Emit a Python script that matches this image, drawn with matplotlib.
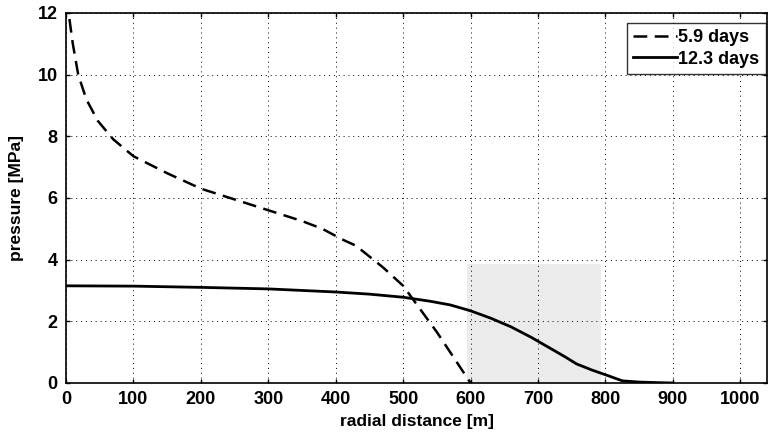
import numpy as np
import matplotlib as mpl
import matplotlib.pyplot as plt

#datos
r_59=[5, 10, 18, 30, 47, 70, 100, 150, 200, 250, 300, 350, 380, 410, 430, 450, 470, 500, 550, 600]
p_59=[11.8, 11.0, 10.0, 9.2, 8.5, 7.9, 7.35, 6.8, 6.3, 5.95, 5.6, 5.25, 5.0, 4.65, 4.45, 4.1, 3.75, 3.15, 1.65, 0.0]

r_123=[0, 100, 200, 300, 400, 450, 500, 540, 570, 600, 630, 660, 690, 717, 740, 757, 780, 801, 825, 850, 880, 900]
p_123=[3.15, 3.14, 3.1, 3.05, 2.95, 2.88, 2.78, 2.65, 2.53, 2.34, 2.1, 1.82, 1.48, 1.14, 0.85, 0.62, 0.42, 0.26, 0.07, 0.03, 0.01, 0.0]

zona_x=[595, 793]
zona_y=[0, 3.85]

ticks_x=[0, 100, 200, 300, 400, 500, 600, 700, 800, 900, 1000]
ticks_y=[0, 2, 4, 6, 8, 10, 12]

#--------------------------------
plt.rcParams['font.family']=['Liberation Sans', 'DejaVu Sans']
plt.rcParams['font.weight']='bold'

fig=plt.figure(figsize=(7.68, 4.42), dpi=100)
ax=fig.add_axes([0.086, 0.1335, 0.913, 0.8375])

ax.fill_between(zona_x, zona_y[0], zona_y[1], color='#ebebeb', lw=0, zorder=0)
ax.plot(r_59, p_59, color='black', lw=1.8, dashes=(5.5, 3), label='5.9 days')
ax.plot(r_123, p_123, color='black', lw=2.0, label='12.3 days')

ax.set_xlim(0, 1040)
ax.set_ylim(0, 12)
ax.set_xticks(ticks_x)
ax.set_yticks(ticks_y)
ax.tick_params(labelsize=13, direction='in', length=3, width=1, pad=6,
               top=True, right=True)
for l in ax.get_xticklabels()+ax.get_yticklabels():
    l.set_fontweight('bold')
ax.grid(True, color='black', ls=(0, (1, 4)), lw=0.7)
for s in ax.spines.values():
    s.set_linewidth(1.2)

ax.set_xlabel('radial distance [m]', fontsize=12.5, fontweight='bold', labelpad=4)
ax.set_ylabel('pressure [MPa]', fontsize=12.5, fontweight='bold', labelpad=10)

leg=ax.legend(loc='upper right', bbox_to_anchor=(0.998, 0.973), fontsize=13,
              frameon=True, fancybox=False, edgecolor='black', handlelength=2.4,
              handletextpad=0.1, borderaxespad=0, borderpad=0.35, labelspacing=0.25)
leg.get_frame().set_linewidth(1.0)
for t in leg.get_texts():
    t.set_fontweight('bold')

fig.savefig('out.png', dpi=100)
